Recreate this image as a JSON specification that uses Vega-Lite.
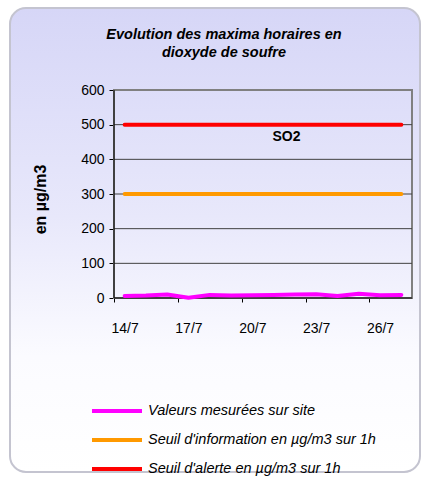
{
  "$schema": "https://vega.github.io/schema/vega-lite/v6.json",
  "autosize": "none",
  "width": 410,
  "height": 464,
  "padding": {"left": 10, "top": 8, "right": 9, "bottom": 6},
  "background": "white",
  "config": {
    "font": "Liberation Sans",
    "view": {
      "fill": {"gradient": "linear", "x1": 0, "y1": 0, "x2": 0, "y2": 1,
        "stops": [{"offset": 0, "color": "#d6d6f7"}, {"offset": 0.45, "color": "#e8e8fb"}, {"offset": 0.75, "color": "#fbfbff"}, {"offset": 1, "color": "#ffffff"}]},
      "stroke": "#c4c4d0",
      "strokeWidth": 2,
      "cornerRadius": 16
    }
  },
  "title": {
    "text": ["Evolution des maxima horaires en", "dioxyde de soufre"],
    "anchor": "middle",
    "frame": "group",
    "orient": "top",
    "baseline": "top",
    "offset": -52,
    "dx": 9,
    "font": "Liberation Sans",
    "fontSize": 14.5,
    "fontStyle": "italic",
    "fontWeight": "bold",
    "lineHeight": 18,
    "color": "black"
  },
  "datasets": {
    "series": [
      {"day": 14, "value": 6, "serie": "Valeurs mesurées sur site"},
      {"day": 15, "value": 7, "serie": "Valeurs mesurées sur site"},
      {"day": 16, "value": 10, "serie": "Valeurs mesurées sur site"},
      {"day": 17, "value": 1, "serie": "Valeurs mesurées sur site"},
      {"day": 18, "value": 9, "serie": "Valeurs mesurées sur site"},
      {"day": 19, "value": 7, "serie": "Valeurs mesurées sur site"},
      {"day": 20, "value": 8, "serie": "Valeurs mesurées sur site"},
      {"day": 21, "value": 9, "serie": "Valeurs mesurées sur site"},
      {"day": 22, "value": 10, "serie": "Valeurs mesurées sur site"},
      {"day": 23, "value": 11, "serie": "Valeurs mesurées sur site"},
      {"day": 24, "value": 6, "serie": "Valeurs mesurées sur site"},
      {"day": 25, "value": 12, "serie": "Valeurs mesurées sur site"},
      {"day": 26, "value": 8, "serie": "Valeurs mesurées sur site"},
      {"day": 27, "value": 9, "serie": "Valeurs mesurées sur site"},
      {"day": 14, "value": 300, "serie": "Seuil d'information en µg/m3 sur 1h"},
      {"day": 15, "value": 300, "serie": "Seuil d'information en µg/m3 sur 1h"},
      {"day": 16, "value": 300, "serie": "Seuil d'information en µg/m3 sur 1h"},
      {"day": 17, "value": 300, "serie": "Seuil d'information en µg/m3 sur 1h"},
      {"day": 18, "value": 300, "serie": "Seuil d'information en µg/m3 sur 1h"},
      {"day": 19, "value": 300, "serie": "Seuil d'information en µg/m3 sur 1h"},
      {"day": 20, "value": 300, "serie": "Seuil d'information en µg/m3 sur 1h"},
      {"day": 21, "value": 300, "serie": "Seuil d'information en µg/m3 sur 1h"},
      {"day": 22, "value": 300, "serie": "Seuil d'information en µg/m3 sur 1h"},
      {"day": 23, "value": 300, "serie": "Seuil d'information en µg/m3 sur 1h"},
      {"day": 24, "value": 300, "serie": "Seuil d'information en µg/m3 sur 1h"},
      {"day": 25, "value": 300, "serie": "Seuil d'information en µg/m3 sur 1h"},
      {"day": 26, "value": 300, "serie": "Seuil d'information en µg/m3 sur 1h"},
      {"day": 27, "value": 300, "serie": "Seuil d'information en µg/m3 sur 1h"},
      {"day": 14, "value": 500, "serie": "Seuil d'alerte en µg/m3 sur 1h"},
      {"day": 15, "value": 500, "serie": "Seuil d'alerte en µg/m3 sur 1h"},
      {"day": 16, "value": 500, "serie": "Seuil d'alerte en µg/m3 sur 1h"},
      {"day": 17, "value": 500, "serie": "Seuil d'alerte en µg/m3 sur 1h"},
      {"day": 18, "value": 500, "serie": "Seuil d'alerte en µg/m3 sur 1h"},
      {"day": 19, "value": 500, "serie": "Seuil d'alerte en µg/m3 sur 1h"},
      {"day": 20, "value": 500, "serie": "Seuil d'alerte en µg/m3 sur 1h"},
      {"day": 21, "value": 500, "serie": "Seuil d'alerte en µg/m3 sur 1h"},
      {"day": 22, "value": 500, "serie": "Seuil d'alerte en µg/m3 sur 1h"},
      {"day": 23, "value": 500, "serie": "Seuil d'alerte en µg/m3 sur 1h"},
      {"day": 24, "value": 500, "serie": "Seuil d'alerte en µg/m3 sur 1h"},
      {"day": 25, "value": 500, "serie": "Seuil d'alerte en µg/m3 sur 1h"},
      {"day": 26, "value": 500, "serie": "Seuil d'alerte en µg/m3 sur 1h"},
      {"day": 27, "value": 500, "serie": "Seuil d'alerte en µg/m3 sur 1h"}
    ],
    "frame": [{"day": 13.5, "day2": 27.5, "value": 0, "value2": 600}],
    "grid": [
      {"day": 13.5, "day2": 27.5, "value": 100},
      {"day": 13.5, "day2": 27.5, "value": 200},
      {"day": 13.5, "day2": 27.5, "value": 300},
      {"day": 13.5, "day2": 27.5, "value": 400},
      {"day": 13.5, "day2": 27.5, "value": 500}
    ],
    "axes": [
      {"day": 13.5, "day2": 13.5, "value": 0, "value2": 600},
      {"day": 13.5, "day2": 27.5, "value": 0, "value2": 0}
    ],
    "label": [{"day": 21.6, "value": 464, "text": "SO2"}]
  },
  "encoding": {
    "x": {
      "field": "day", "type": "quantitative",
      "scale": {"domain": [8.614, 27.876], "nice": false, "zero": false},
      "axis": {
        "offset": -174, "values": [13.5, 16.5, 19.5, 22.5, 25.5],
        "labelExpr": "floor(datum.value + 1) + '/7'",
        "labelOffset": 10.6, "labelFontSize": 14, "labelColor": "black",
        "labelFont": "Liberation Sans", "labelPadding": 19,
        "domain": false, "grid": false, "tickSize": 4, "tickColor": "black",
        "title": null
      }
    },
    "y": {
      "field": "value", "type": "quantitative",
      "scale": {"domain": [-501.92, 836.54], "nice": false, "zero": false},
      "axis": {
        "offset": -104, "values": [0, 100, 200, 300, 400, 500, 600],
        "labelFontSize": 14, "labelColor": "black", "labelFont": "Liberation Sans",
        "labelPadding": 5, "domain": false, "grid": false, "tickSize": 5, "tickColor": "black",
        "title": "en µg/m3", "titleFontSize": 16, "titleFontWeight": "bold", "titleColor": "black",
        "titleFont": "Liberation Sans", "titleX": -74, "titleY": 191, "titleAngle": -90, "titleAlign": "center", "titleBaseline": "middle"
      }
    }
  },
  "layer": [
    {
      "data": {"name": "frame"},
      "mark": {"type": "rect", "fill": null, "stroke": "#808080", "strokeWidth": 2},
      "encoding": {
        "x2": {"field": "day2"},
        "y2": {"field": "value2"}
      }
    },
    {
      "data": {"name": "grid"},
      "mark": {"type": "rule", "stroke": "#404040", "strokeWidth": 1},
      "encoding": {
        "x2": {"field": "day2"}
      }
    },
    {
      "data": {"name": "axes"},
      "mark": {"type": "rule", "stroke": "black", "strokeWidth": 1},
      "encoding": {
        "x2": {"field": "day2"},
        "y2": {"field": "value2"}
      }
    },
    {
      "data": {"name": "series"},
      "mark": {"type": "line", "strokeWidth": 4, "strokeCap": "round", "strokeJoin": "round"},
      "encoding": {
        "color": {
          "field": "serie", "type": "nominal",
          "scale": {
            "domain": ["Valeurs mesurées sur site", "Seuil d'information en µg/m3 sur 1h", "Seuil d'alerte en µg/m3 sur 1h"],
            "range": ["#ff00ff", "#ff9900", "#ff0000"]
          },
          "legend": {
            "orient": "none", "legendX": 95, "legendY": 391, "title": null,
            "symbolType": "M-2.5,0L2.5,0", "symbolSize": 400, "symbolStrokeWidth": 4,
            "labelFontSize": 14.5, "labelFontStyle": "italic", "labelFont": "Liberation Sans",
            "labelColor": "black", "labelOffset": 19, "labelLimit": 400, "rowPadding": 9
          }
        }
      }
    },
    {
      "data": {"name": "label"},
      "mark": {"type": "text", "fontSize": 14, "fontWeight": "bold", "font": "Liberation Sans", "color": "black"},
      "encoding": {
        "text": {"field": "text"}
      }
    }
  ]
}
